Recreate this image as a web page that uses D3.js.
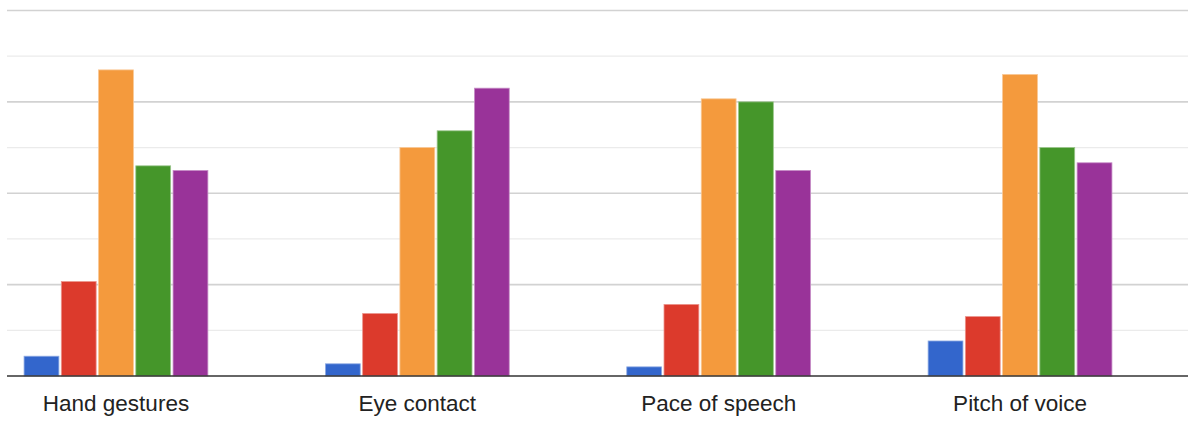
<!DOCTYPE html>
<html>
<head>
<meta charset="utf-8">
<script src="https://cdn.jsdelivr.net/npm/d3@7"></script>
<style>
  html, body { margin: 0; padding: 0; background: #ffffff; }
  svg { display: block; }
</style>
</head>
<body>
<div id="chart"></div>
<script>
// Categories along the x axis
const categories = ["Hand gestures", "Eye contact", "Pace of speech", "Pitch of voice"];

// One array per response series, one value per category
const series1 = [1.3, 0.8, 0.6, 2.3];
const series2 = [6.2, 4.1, 4.7, 3.9];
const series3 = [20.1, 15.0, 18.2, 19.8];
const series4 = [13.8, 16.1, 18.0, 15.0];
const series5 = [13.5, 18.9, 13.5, 14.0];

const seriesNames = ["1", "2", "3", "4", "5"];
const seriesValues = [series1, series2, series3, series4, series5];
const seriesColors = ["#3366cc", "#dc3a2c", "#f49a3d", "#45962a", "#993399"];

// Gridline values (every other one drawn a little darker)
const gridTicks = [3, 6, 9, 12, 15, 18, 21, 24];

const width = 1188, height = 421;
const plotLeft = 7, plotRight = 1188;
const baseY = 376, topY = 10.5;

const svg = d3.select("#chart").append("svg")
  .attr("width", width).attr("height", height);

const y = d3.scaleLinear().domain([0, 24]).range([baseY, topY]);

const x = d3.scaleBand()
  .domain(categories)
  .range([-34.7, 1170.7])
  .paddingInner(0.39)
  .paddingOuter(0.195);

const xs = d3.scaleBand()
  .domain(seriesNames)
  .range([0, x.bandwidth()])
  .paddingInner(0.065)
  .paddingOuter(0);

// Horizontal gridlines
svg.append("g").selectAll("line")
  .data(gridTicks)
  .join("line")
  .attr("x1", plotLeft).attr("x2", plotRight)
  .attr("y1", d => y(d)).attr("y2", d => y(d))
  .attr("stroke", (d, i) => (i % 2 === 1 ? "#d2d2d2" : "#ebebeb"))
  .attr("stroke-width", (d, i) => (i % 2 === 1 ? 1.6 : 1.3));

// Bars
const rows = [];
categories.forEach((c, ci) => {
  seriesNames.forEach((s, si) => {
    rows.push({ cat: c, ser: s, value: seriesValues[si][ci], color: seriesColors[si] });
  });
});

const groups = svg.append("g").selectAll("g")
  .data(categories)
  .join("g")
  .attr("transform", d => `translate(${x(d)},0)`);

groups.selectAll("rect")
  .data(c => rows.filter(r => r.cat === c))
  .join("rect")
  .attr("x", d => xs(d.ser))
  .attr("width", xs.bandwidth())
  .attr("y", d => y(d.value))
  .attr("height", d => y(0) - y(d.value))
  .attr("fill", d => d.color)
  .attr("stroke", d => d3.interpolateRgb(d.color, "#ffffff")(0.45))
  .attr("stroke-width", 0.8);

// Baseline
svg.append("line")
  .attr("x1", plotLeft).attr("x2", plotRight)
  .attr("y1", y(0)).attr("y2", y(0))
  .attr("stroke", "#333333")
  .attr("stroke-width", 1.6);

// Category labels
const xAxis = d3.axisBottom(x).tickSize(0).tickPadding(0);
const axisG = svg.append("g")
  .attr("transform", `translate(0,${baseY})`)
  .call(xAxis);
axisG.select(".domain").remove();
axisG.selectAll("text")
  .attr("dy", null)
  .attr("y", 35)
  .attr("fill", "#222222")
  .style("font-family", "Arial, 'Liberation Sans', Helvetica, sans-serif")
  .style("font-size", "22.5px");
</script>
</body>
</html>
